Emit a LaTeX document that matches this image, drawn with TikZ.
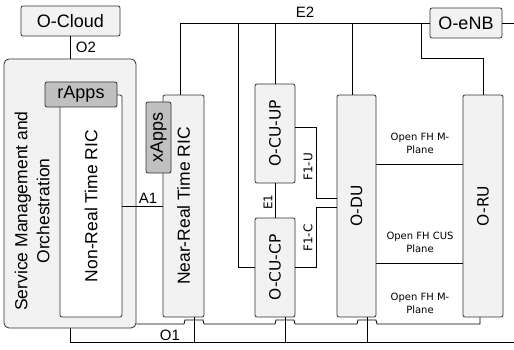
\documentclass[tikz,border=0pt]{standalone}
\usepackage{fontspec}
\setmainfont{Liberation Sans}
\newfontfamily\dvs{DejaVu Sans}
\usetikzlibrary{calc}
\definecolor{boxfill}{RGB}{242,242,242}
\definecolor{appfill}{RGB}{192,192,192}
\definecolor{edgec}{RGB}{50,50,50}
\begin{document}
\begin{tikzpicture}[x=1pt,y=-1pt,line width=0.8pt,
  box/.style={draw=edgec,fill=boxfill,rounded corners=2pt,inner sep=0pt},
  app/.style={box,fill=appfill},
  fbig/.style={font=\fontsize{18}{22}\selectfont},
  fric/.style={font=\fontsize{17.5}{22}\selectfont},
  fmid/.style={font=\dvs\fontsize{15.5}{18}\selectfont},
  fbus/.style={font=\fontsize{15}{18}\selectfont},
  fsml/.style={font=\dvs\fontsize{12}{14}\selectfont},
  ffh/.style={font=\dvs\fontsize{10}{13}\selectfont},
  lbl/.style={inner sep=0pt},
  wire/.style={draw=black,line width=0.8pt}]
\useasboundingbox (0,0) rectangle (514,350);

% boxes
\node[box,fbig,minimum width=99pt,minimum height=30pt] (ocloud) at (70.5,21) {O-Cloud};
\node[box,rounded corners=5pt,minimum width=132pt,minimum height=269pt] (smo) at (70,193.5) {};
\node[lbl,fric,rotate=90,align=center] (smotext) at (32,211) {Service Management and\\Orchestration};
\node[box,fill=white,fric,minimum width=62pt,minimum height=222pt] (nonrt) at (91,206) {\rotatebox{90}{Non-Real Time RIC}};
\node[app,fbig,minimum width=72pt,minimum height=25pt] (rapps) at (81,94.5) {rApps};
\node[box,fric,minimum width=41pt,minimum height=222pt] (nearrt) at (183.5,206) {\rotatebox{90}{Near-Real Time RIC}};
\node[app,fbig,minimum width=25pt,minimum height=71pt] (xapps) at (158.5,137.5) {\rotatebox{90}{xApps}};
\node[box,fmid,minimum width=40pt,minimum height=99pt] (ocuup) at (275,133.5) {\rotatebox{90}{O-CU-UP}};
\node[box,fmid,minimum width=40pt,minimum height=99pt] (ocucp) at (275,267.5) {\rotatebox{90}{O-CU-CP}};
\node[box,fmid,minimum width=39pt,minimum height=222pt] (odu) at (356.5,206) {\rotatebox{90}{O-DU}};
\node[box,fmid,minimum width=40pt,minimum height=222pt] (oru) at (483,206) {\rotatebox{90}{O-RU}};
\node[box,fbig,minimum width=72pt,minimum height=30pt] (oenb) at (466,23) {O-eNB};

% coordinates
\coordinate (e2end) at (514,23);
\coordinate (e2a) at (238,23);
\coordinate (e2b) at (275,23);
\coordinate (e2d) at (352,23);
\coordinate (e2c) at (421,23);
\coordinate (o1end) at (514,342);
\coordinate (o1a) at (194,342);
\coordinate (o1b) at (285,342);
\coordinate (o1c) at (367,342);
\coordinate (f1u) at (316,198);
\coordinate (f1c) at (316,207);

% O2
\draw[wire] (ocloud.south) -- (ocloud.south |- smo.north);
% E2
\draw[wire] ([xshift=-3.5pt]nearrt.north) |- (oenb.west);
\draw[wire] (oenb.east) -- (e2end);
\draw[wire] (ocucp.west) -| (e2a);
\draw[wire] (ocuup.north) -- (e2b);
\draw[wire] ([xshift=-4.5pt]odu.north) -- (e2d);
\draw[wire] (e2c) |- ([yshift=36pt]oru.north) -- (oru.north);
% A1
\draw[wire] (nonrt.east) -- (nonrt.east -| nearrt.west);
% E1
\draw[wire] (ocuup.south) -- (ocucp.north);
% F1
\draw[wire] ([yshift=6.5pt]ocuup.east) -| (f1u) -- (f1u -| odu.west);
\draw[wire] (ocucp.east) -| (f1c) -- (f1c -| odu.west);
% Open FH
\draw[wire] ([yshift=42pt]odu.east) -- ([yshift=42pt]oru.west);
\draw[wire] ([yshift=-57pt]odu.east) -- ([yshift=-57pt]oru.west);
% O-RU to SMO with hops
\draw[wire] ([xshift=-3pt]oru.south) |- (377,324) -- (376,320) -- (358,320) -- (357,324)
  -- (295,324) -- (294,320) -- (276,320) -- (275,324)
  -- (204,324) -- (203,320) -- (185,320) -- (184,324) -- ([yshift=-130.5pt]smo.east);
% O1
\draw[wire] (smo.south) |- (o1end);
\draw[wire] ([xshift=10.5pt]nearrt.south) -- (o1a);
\draw[wire] ([xshift=10pt]ocucp.south) -- (o1b);
\draw[wire] ([xshift=10.5pt]odu.south) -- (o1c);

% labels
\node[lbl,fbus] (o2l) at (86,47) {O2};
\node[lbl,fbus] (e2l) at (305,12) {E2};
\node[lbl,fbus] (a1l) at (148,198) {A1};
\node[lbl,fbus] (o1l) at (170,335) {O1};
\node[lbl,fsml,rotate=90] (e1l) at (268,202) {E1};
\node[lbl,fsml,rotate=90] (f1ul) at (308,167) {F1-U};
\node[lbl,fsml,rotate=90] (f1cl) at (308,238) {F1-C};
\node[lbl,ffh,align=center] (fh1) at (420,143) {Open FH M-\\Plane};
\node[lbl,ffh,align=center] (fh2) at (420,242) {Open FH CUS\\Plane};
\node[lbl,ffh,align=center] (fh3) at (420,303) {Open FH M-\\Plane};
\end{tikzpicture}
\end{document}
